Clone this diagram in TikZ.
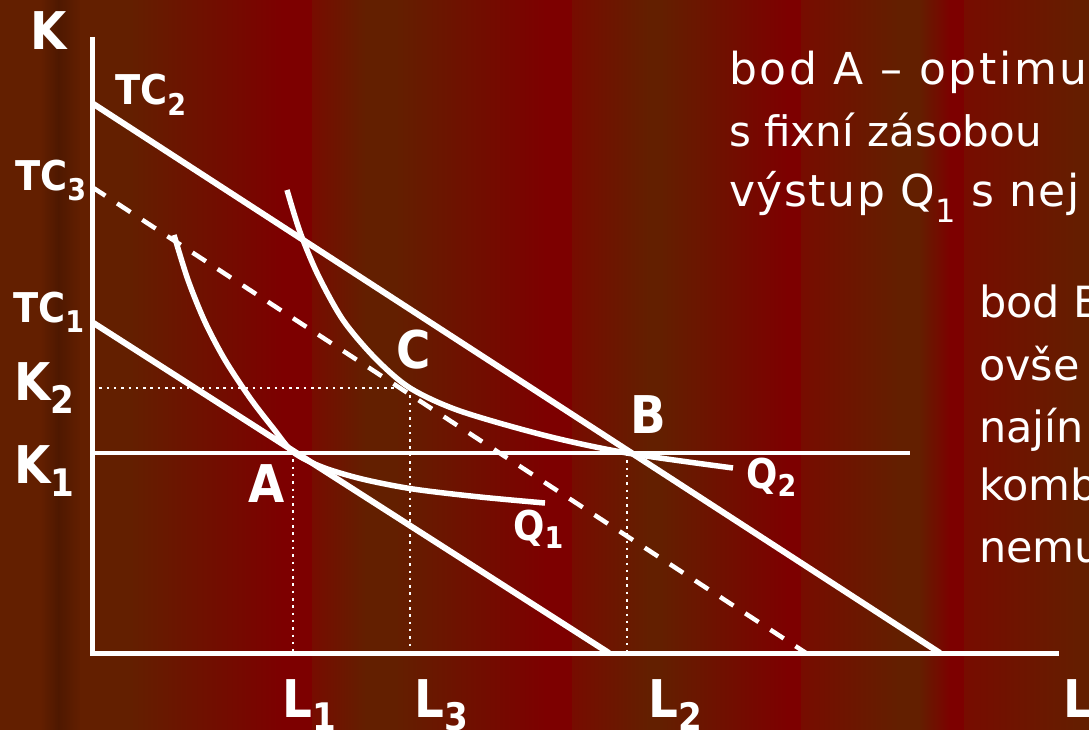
\documentclass[tikz,border=0pt]{standalone}
\usepackage{fontspec}
\setsansfont{DejaVu Sans}
\newfontfamily\lblfont[FakeStretch=0.9]{DejaVu Sans}

\definecolor{bgbrown}{RGB}{99,31,0}
\definecolor{bgdark}{RGB}{78,24,0}
\definecolor{bgred}{RGB}{125,0,0}
\definecolor{bgredsoft}{RGB}{119,12,0}

\newcommand\lowidx[2][0.25em]{\raisebox{-#1}{\scalebox{0.73}{#2}}}

\begin{document}
\begin{tikzpicture}[
        x=1pt, y=-1pt,
        axisline/.style={draw=white, line width=5pt, line join=miter},
        budget/.style={draw=white, line width=6pt},
        budgetdash/.style={draw=white, line width=4.5pt, dash pattern=on 16pt off 14pt},
        quant/.style={draw=white, line width=5.5pt},
        level/.style={draw=white, line width=3.3pt},
        guide/.style={draw=white, line width=2.5pt, dash pattern=on 2.5pt off 4.8pt},
        biglbl/.style={text=white, font=\lblfont\bfseries\fontsize{52}{52}\selectfont, inner sep=0pt, anchor=base west},
        smalllbl/.style={text=white, font=\lblfont\bfseries\fontsize{41}{41}\selectfont, inner sep=0pt, anchor=base west},
        bodytxt/.style={text=white, font=\sffamily\fontsize{42}{42}\selectfont, inner sep=0pt, anchor=base west}
    ]
        \useasboundingbox (0,0) rectangle (1089,730);
        \clip (0,0) rectangle (1089,730);

        % ----------------------------------------------------
        % BACKGROUND (vertical stripes)
        % ----------------------------------------------------
        \fill[bgbrown] (0,0) rectangle (41,730);
        \shade[left color=bgbrown, right color=bgdark] (40,0) rectangle (59,730);
        \shade[left color=bgdark, right color=bgbrown] (58,0) rectangle (81,730);
        \fill[bgbrown] (80,0) rectangle (131,730);
        \shade[left color=bgbrown, right color=bgred] (130,0) rectangle (283,730);
        \fill[bgred] (282,0) rectangle (313,730);
        \shade[left color=bgredsoft, right color=bgbrown] (312,0) rectangle (366,730);
        \fill[bgbrown] (365,0) rectangle (396,730);
        \shade[left color=bgbrown, right color=bgred] (395,0) rectangle (546,730);
        \fill[bgred] (545,0) rectangle (573,730);
        \shade[left color=bgredsoft, right color=bgbrown] (572,0) rectangle (649,730);
        \fill[bgbrown] (648,0) rectangle (661,730);
        \shade[left color=bgbrown, right color=bgred] (660,0) rectangle (788,730);
        \fill[bgred] (787,0) rectangle (802,730);
        \shade[left color=bgredsoft, right color=bgbrown] (801,0) rectangle (899,730);
        \fill[bgbrown] (898,0) rectangle (920,730);
        \shade[left color=bgbrown, right color=bgred] (919,0) rectangle (951,730);
        \fill[bgred] (950,0) rectangle (965,730);
        \shade[left color=bgredsoft, right color=bgbrown] (964,0) rectangle (1089,730);

        % ----------------------------------------------------
        % POINTS
        % ----------------------------------------------------
        \coordinate (O) at (92,653);
        \coordinate (ytop) at (92,37);
        \coordinate (xend) at (1059,653);
        \coordinate (tc1a) at (92,322);
        \coordinate (tc1b) at (609,653);
        \coordinate (tc2a) at (92,103);
        \coordinate (tc2b) at (940,653);
        \coordinate (tc3a) at (92,187);
        \coordinate (tc3b) at (806,653);
        \coordinate (A) at (293,452);
        \coordinate (B) at (627,453);
        \coordinate (C) at (410,388);
        \coordinate (kend) at (910,453);

        % ----------------------------------------------------
        % GUIDES
        % ----------------------------------------------------
        \draw[guide] (C -| O) -- (C);
        \draw[guide] (C) -- (C |- O);
        \draw[guide] (A) -- (A |- O);
        \draw[guide] (B) -- (B |- O);
        \draw[level] (B -| O) -- (kend);

        % ----------------------------------------------------
        % BUDGET LINES AND ISOQUANTS
        % ----------------------------------------------------
        \draw[budget] (tc1a) -- (tc1b);
        \draw[budget] (tc2a) -- (tc2b);
        \draw[budgetdash] (tc3a) -- (tc3b);
        \draw[quant] plot[smooth] coordinates {(174,235) (188,280) (205,322) (225,360) (250,398) (273,428) (A) (322,467) (362,479) (413,489) (480,497) (545,503)};
        \draw[quant] plot[smooth] coordinates {(287,190) (300,232) (318,275) (343,320) (375,358) (C) (460,411) (547,436) (B) (733,468)};

        \draw[axisline] (ytop) -- (O) -- (xend);

        % ----------------------------------------------------
        % LABELS
        % ----------------------------------------------------
        \node[biglbl] (lblK) at (30,50) {K};
        \node[biglbl] (lblK2) at (14,400) {K\lowidx{2}};
        \node[biglbl] (lblK1) at (14,483) {K\lowidx{1}};
        \node[smalllbl] (lblTC2) at (115,105) {TC\lowidx{2}};
        \node[smalllbl] (lblTC3) at (15,190) {TC\lowidx{3}};
        \node[smalllbl] (lblTC1) at (13,322) {TC\lowidx{1}};
        \node[biglbl] (lblA) at (248,502) {A};
        \node[biglbl] (lblB) at (630,433) {B};
        \node[biglbl] (lblC) at (396,368) {C};
        \node[smalllbl] (lblQ1) at (513,540) {Q\lowidx[0.2em]{1}};
        \node[smalllbl] (lblQ2) at (746,488) {Q\lowidx[0.2em]{2}};
        \node[biglbl] (lblL1) at (282,717) {L\lowidx{1}};
        \node[biglbl] (lblL3) at (414,717) {L\lowidx{3}};
        \node[biglbl] (lblL2) at (648,717) {L\lowidx{2}};
        \node[biglbl] (lblL) at (1063,717) {L};

        % ----------------------------------------------------
        % TEXT
        % ----------------------------------------------------
        \node[bodytxt, font=\sffamily\addfontfeature{LetterSpace=6}\fontsize{44}{44}\selectfont] (txtA1) at (729,85) {bod A – optimu};
        \node[bodytxt] (txtA2) at (729,147) {s fixní zásobou};
        \node[bodytxt, font=\sffamily\addfontfeature{LetterSpace=3.5}\fontsize{44}{44}\selectfont] (txtA3) at (729,207) {výstup Q\lowidx[0.36em]{1} s nej};
        \node[bodytxt, font=\sffamily\fontsize{43}{43}\selectfont] (txtB1) at (979,317) {bod B};
        \node[bodytxt, font=\sffamily\fontsize{43}{43}\selectfont] (txtB2) at (979,380) {ovše};
        \node[bodytxt, font=\sffamily\fontsize{43}{43}\selectfont] (txtB3) at (979,442) {najín};
        \node[bodytxt, font=\sffamily\fontsize{43}{43}\selectfont] (txtB4) at (979,500) {komb};
        \node[bodytxt, font=\sffamily\fontsize{43}{43}\selectfont] (txtB5) at (979,562) {nemu};

    \end{tikzpicture}
\end{document}
